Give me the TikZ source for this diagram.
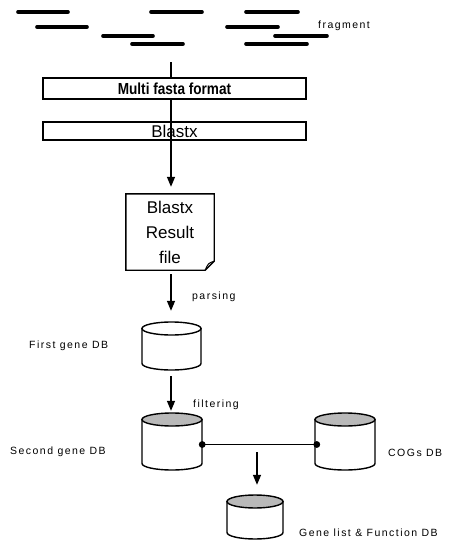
\documentclass[tikz,border=0pt]{standalone}
\usepackage{fontspec}
\setmainfont{Liberation Sans}
\newfontfamily\labfont[LetterSpace=14]{Liberation Sans}
\usetikzlibrary{arrows.meta,calc}
\tikzset{
  frag/.style={line width=3.6pt, line cap=round},
  lab/.style={font=\labfont\fontsize{10.5}{12}\selectfont, inner sep=0pt},
  fmtbox/.style={draw, line width=1.7pt, minimum width=263pt, inner sep=0pt},
  arr/.style={line width=1.5pt, -{Triangle[width=8pt,length=10pt]}},
  conn/.style={line width=1.3pt},
  cylbox/.style={inner sep=0pt, draw=none},
  cylline/.style={draw, line width=1.4pt},
}
\newcommand\dbcyl[6]{%
  \node[cylbox, minimum width={(#4-#2)*1pt}, minimum height={(#5-#3)*1pt}] (#1) at ({(#2+#4)/2},{(#3+#5)/2}) {};
  \path[cylline, fill=white] (#2,#3+6.5) -- (#2,#5-6.5) arc[start angle=180, end angle=0, x radius={(#4-#2)/2}, y radius=6.5] -- (#4,#3+6.5) -- cycle;
  \path[cylline, fill=#6] ({(#2+#4)/2},#3+6.5) ellipse[x radius={(#4-#2)/2}, y radius=6.5];
}
\begin{document}
\begin{tikzpicture}[x=1pt, y=-1pt]
\useasboundingbox (0,0) rectangle (466,541);
% fragments
\draw[frag] (18,12) -- (68,12);
\draw[frag] (37,27) -- (87,27);
\draw[frag] (103,36) -- (153,36);
\draw[frag] (132,44) -- (183,44);
\draw[frag] (151,12) -- (202,12);
\draw[frag] (246,12) -- (298,12);
\draw[frag] (227,27) -- (278,27);
\draw[frag] (275,36) -- (327,36);
\draw[frag] (246,44) -- (307,44);
\node[lab, anchor=west] (fraglab) at (318,26) {fragment};
% boxes
\node[fmtbox, minimum height=21pt] (multi) at (174.5,88.5) {\fontsize{16}{16}\selectfont\bfseries\scalebox{0.85}[1]{Multi fasta format}};
\node[fmtbox, minimum height=18pt] (blastx) at (174.5,131) {\fontsize{17}{17}\selectfont Blastx};
\coordinate (top) at (171,62);
\draw[conn] (top) -- (top |- multi.north);
\draw[conn] (top |- multi.south) -- (top |- blastx.north);
% document
\node[inner sep=0pt, minimum width=88pt, minimum height=76pt, align=center, font=\fontsize{17}{25}\selectfont] (doc) at (170,232) {Blastx\\Result\\file};
\draw[line width=1.4pt] (doc.north west) -- (doc.north east) -- ([yshift=9pt]doc.south east) -- ([xshift=-9pt]doc.south east) -- (doc.south west) -- cycle;
\draw[line width=1pt] ([yshift=9pt]doc.south east) .. controls ([xshift=-6pt,yshift=7pt]doc.south east) .. ([xshift=-9pt]doc.south east);
\draw[arr, shorten >=7pt] (top |- blastx.north) -- (top |- doc.north);
% databases
\dbcyl{first}{142}{322}{201}{370}{white}
\dbcyl{second}{142}{413}{202}{470}{gray!55}
\dbcyl{cogs}{315}{413}{375}{470}{gray!55}
\dbcyl{gene}{227}{495}{283}{539}{gray!55}
\draw[arr, shorten <=4pt, shorten >=11pt] (top |- doc.south) -- (top |- first.north);
\draw[arr, shorten <=6pt, shorten >=2pt] (top |- first.south) -- (top |- second.north);
\node[lab, anchor=west] (parsing) at (192,297) {parsing};
\node[lab, anchor=west] (filtering) at (193,405) {filtering};
\node[lab, anchor=west] (firstlab) at (29,346) {First gene DB};
\node[lab, anchor=west] (secondlab) at (10,452) {Second gene DB};
\node[lab, anchor=west] (cogslab) at (388,453) {COGs DB};
\node[lab, anchor=west] (genelab) at (299,533) {Gene list \& Function DB};
% link
\coordinate (ls) at ([yshift=-3pt]second.east);
\coordinate (le) at ([yshift=-3pt]cogs.west);
\draw[conn] (ls) -- (le);
\fill (ls) circle (3.4pt);
\fill ([xshift=2pt]le) circle (3.4pt);
\coordinate (mid) at (257,444);
\draw[arr, shorten <=8pt, shorten >=10pt] (mid) -- (mid |- gene.north);
\end{tikzpicture}
\end{document}
